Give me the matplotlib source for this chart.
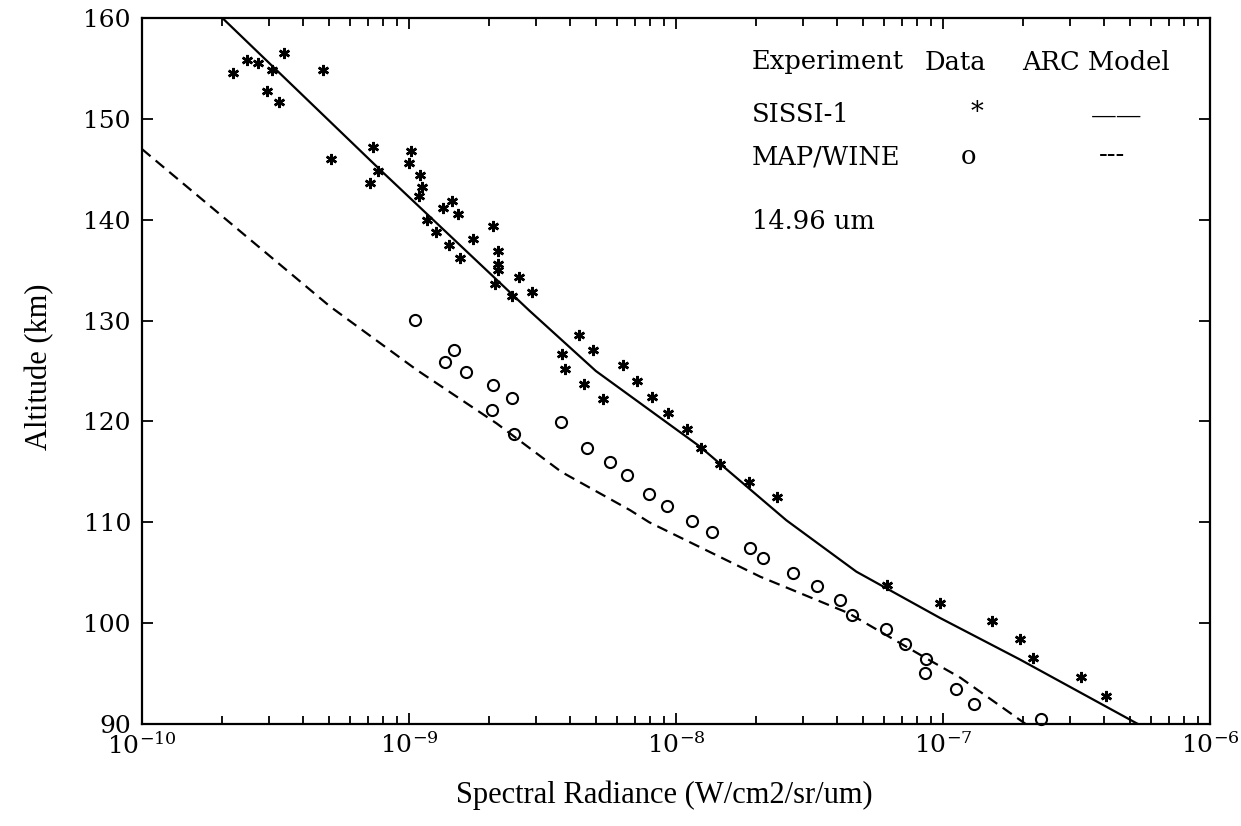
import matplotlib
matplotlib.use("Agg")
import matplotlib.pyplot as plt
from matplotlib.ticker import LogLocator, NullFormatter, MultipleLocator

plt.rcParams["font.family"] = "DejaVu Serif"
plt.rcParams["mathtext.fontset"] = "custom"
plt.rcParams["mathtext.rm"] = "DejaVu Serif"
plt.rcParams["axes.unicode_minus"] = False

# SISSI-1 data (asterisks)
sissi_rad = [2.20e-10, 2.48e-10, 2.73e-10, 3.08e-10, 3.40e-10, 2.93e-10, 3.25e-10,
             4.78e-10, 5.09e-10, 7.31e-10, 7.66e-10, 7.13e-10, 1.02e-9, 9.98e-10,
             1.10e-9, 1.12e-9, 1.09e-9, 1.17e-9, 1.26e-9, 1.34e-9, 1.45e-9, 1.52e-9,
             1.41e-9, 1.55e-9, 1.74e-9, 2.07e-9, 2.16e-9, 2.16e-9, 2.16e-9, 2.10e-9,
             2.59e-9, 2.43e-9, 2.90e-9, 4.34e-9, 4.90e-9, 3.73e-9, 3.84e-9, 4.52e-9,
             5.31e-9, 6.34e-9, 7.14e-9, 8.11e-9, 9.31e-9, 1.10e-8, 1.24e-8, 1.46e-8,
             1.87e-8, 2.38e-8, 6.18e-8, 9.75e-8, 1.52e-7, 1.94e-7, 2.18e-7, 3.30e-7,
             4.07e-7]
sissi_alt = [154.5, 155.8, 155.5, 154.8, 156.5, 152.8, 151.7,
             154.8, 146.0, 147.2, 144.8, 143.6, 146.8, 145.6,
             144.4, 143.2, 142.4, 140.0, 138.8, 141.2, 141.9, 140.6,
             137.5, 136.2, 138.1, 139.4, 136.9, 135.6, 135.0, 133.6,
             134.3, 132.4, 132.8, 128.6, 127.1, 126.7, 125.2, 123.7,
             122.2, 125.6, 124.0, 122.4, 120.8, 119.2, 117.4, 115.8,
             114.0, 112.5, 103.8, 102.0, 100.2, 98.4, 96.5, 94.7,
             92.8]

# MAP/WINE data (circles)
mapwine_rad = [1.05e-9, 1.48e-9, 1.36e-9, 1.63e-9, 2.07e-9, 2.43e-9, 2.04e-9,
               2.47e-9, 3.70e-9, 4.66e-9, 5.66e-9, 6.55e-9, 7.94e-9, 9.23e-9,
               1.15e-8, 1.36e-8, 1.90e-8, 2.11e-8, 2.75e-8, 3.38e-8, 4.13e-8,
               4.55e-8, 6.12e-8, 7.21e-8, 8.61e-8, 8.57e-8, 1.12e-7, 1.31e-7,
               2.32e-7]
mapwine_alt = [130.1, 127.1, 125.9, 124.9, 123.6, 122.3, 121.1,
               118.8, 119.9, 117.4, 116.0, 114.7, 112.8, 111.6,
               110.1, 109.0, 107.5, 106.5, 105.0, 103.7, 102.3,
               100.8, 99.4, 97.9, 96.4, 95.1, 93.5, 92.0,
               90.5]

# ARC model curves
arc_sissi_rad = [2.00e-10, 7.76e-10, 2.82e-9, 5.01e-9, 1.23e-8, 2.59e-8, 4.74e-8,
                 9.77e-8, 1.94e-7, 5.37e-7]
arc_sissi_alt = [160, 145, 131, 125, 117.5, 110.2, 105.1, 100.5, 96.4, 90]

arc_map_rad = [1.00e-10, 5.06e-10, 1.07e-9, 2.13e-9, 3.72e-9, 6.73e-9, 7.94e-9,
               2.07e-8, 4.42e-8, 8.67e-8, 1.16e-7, 2.04e-7]
arc_map_alt = [147.0, 131.4, 125.1, 119.8, 115.0, 111.2, 110.0,
               104.6, 101.0, 96.5, 94.6, 90.0]

W, H = 1241, 826
fig = plt.figure(figsize=(W / 100, H / 100), dpi=100)
ax = fig.add_axes([142 / W, 1 - 724 / H, (1210 - 142) / W, (724 - 18) / H])

ax.plot(arc_sissi_rad, arc_sissi_alt, color="black", lw=1.6)
ax.plot(arc_map_rad, arc_map_alt, color="black", lw=1.6, ls=(0, (5, 3)))
ax.plot(sissi_rad, sissi_alt, ls="none", marker=(6, 2, 0), ms=8, mew=1.8,
        color="black")
ax.plot(mapwine_rad, mapwine_alt, ls="none", marker="o", ms=8, mew=1.5,
        mfc="none", mec="black", clip_on=False)

ax.set_xscale("log")
ax.set_xlim(1e-10, 1e-6)
ax.set_ylim(90, 160)
ax.yaxis.set_major_locator(MultipleLocator(10))
ax.xaxis.set_major_locator(LogLocator(base=10, numticks=10))
ax.xaxis.set_minor_locator(LogLocator(base=10, subs=range(2, 10), numticks=20))
ax.xaxis.set_minor_formatter(NullFormatter())

ax.tick_params(which="both", direction="in", top=True, right=True,
               labelsize=18, width=1.3)
ax.tick_params(which="major", length=8)
ax.tick_params(which="minor", length=6)
ax.tick_params(axis="x", pad=6)
ax.tick_params(axis="y", pad=8)
for s in ax.spines.values():
    s.set_linewidth(1.6)

ax.set_xlabel("Spectral Radiance (W/cm2/sr/um)", family="Liberation Serif",
              fontsize=22)
ax.xaxis.set_label_coords((664 - 142) / 1068, (724 - 795) / 706)
ax.xaxis.label.set_va("center")
ax.set_ylabel("Altitude (km)", family="Liberation Serif", fontsize=22)
ax.yaxis.set_label_coords((40 - 142) / 1068, (724 - 367) / 706)
ax.yaxis.label.set_va("center")

# legend drawn as text block
def ftext(x, y, s, **kw):
    fig.text(x / W, 1 - y / H, s, va="center", fontsize=18.5, **kw)

ftext(752, 62, "Experiment")
ftext(925, 62, "Data")
ftext(1022, 62, "ARC Model")
ftext(752, 114, "SISSI-1")
ftext(977, 112, "*", ha="center")
ftext(1117, 116, "\u2014\u2014", ha="center")
ftext(752, 157, "MAP/WINE")
ftext(968, 157, "o", ha="center")
ftext(1112, 155, "---", ha="center")
ftext(752, 222, "14.96 um")

fig.savefig("out.png", dpi=100)
